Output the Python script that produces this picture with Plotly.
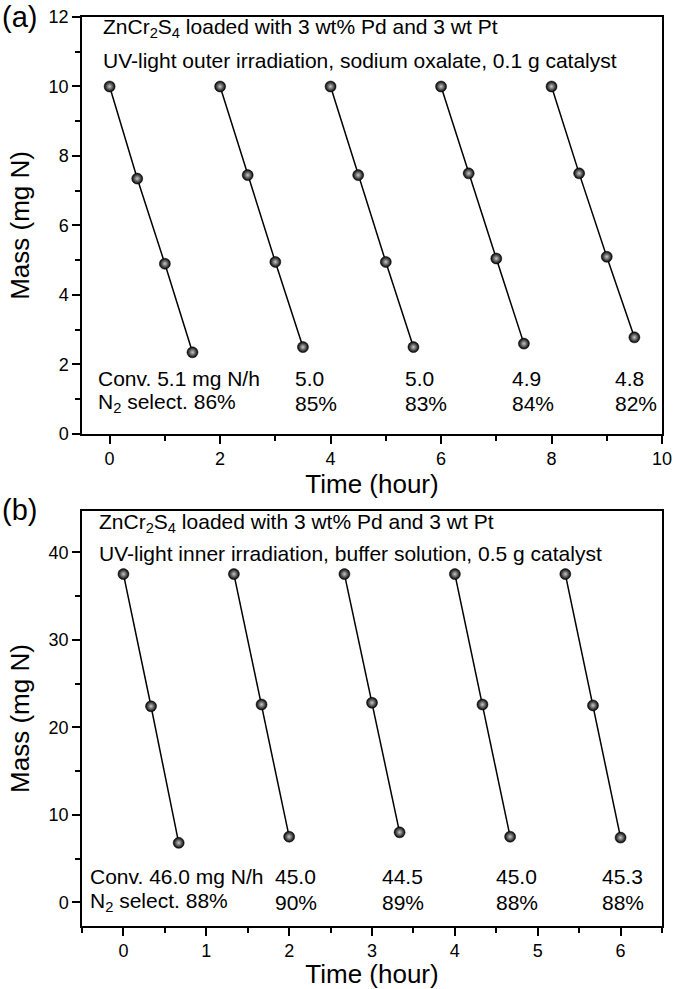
import plotly.graph_objects as go

# ---- data (a) ----
a_time = [[0, 0.5, 1.0, 1.5], [2, 2.5, 3.0, 3.5], [4, 4.5, 5.0, 5.5], [6, 6.5, 7.0, 7.5], [8, 8.5, 9.0, 9.5]]
a_mass = [[10, 7.35, 4.9, 2.35], [10, 7.45, 4.95, 2.5], [10, 7.45, 4.95, 2.5], [10, 7.5, 5.05, 2.6], [10, 7.5, 5.1, 2.78]]
a_conv = ["Conv. 5.1 mg N/h", "5.0", "5.0", "4.9", "4.8"]
a_sel = ["N<sub>2</sub> select. 86%", "85%", "83%", "84%", "82%"]
a_label_x = [-0.25, 3.32, 5.31, 7.25, 9.11]

# ---- data (b) ----
b_time = [[0, 0.333, 0.667], [1.333, 1.667, 2.0], [2.667, 3.0, 3.333], [4.0, 4.333, 4.667], [5.333, 5.667, 6.0]]
b_mass = [[37.5, 22.4, 6.8], [37.5, 22.6, 7.5], [37.5, 22.8, 8.0], [37.5, 22.6, 7.5], [37.5, 22.5, 7.4]]
b_conv = ["Conv. 46.0 mg N/h", "45.0", "44.5", "45.0", "45.3"]
b_sel = ["N<sub>2</sub> select. 88%", "90%", "89%", "88%", "88%"]
b_label_x = [-0.43, 1.81, 3.1, 4.47, 5.75]

FONT = "Liberation Sans, Arial, sans-serif"
fig = go.Figure()

marker = dict(size=11, color="black", gradient=dict(type="radial", color="#c8c8c8"),
              line=dict(width=0.5, color="black"))

for t, m in zip(a_time, a_mass):
    fig.add_trace(go.Scatter(x=t, y=m, mode="lines+markers", xaxis="x", yaxis="y",
                             line=dict(color="black", width=1.5), marker=marker, showlegend=False))
for t, m in zip(b_time, b_mass):
    fig.add_trace(go.Scatter(x=t, y=m, mode="lines+markers", xaxis="x2", yaxis="y2",
                             line=dict(color="black", width=1.5), marker=marker, showlegend=False))

axis_common = dict(showline=True, linecolor="black", linewidth=1.5, mirror=True,
                   ticks="outside", ticklen=8, tickwidth=1.5, tickcolor="black",
                   showgrid=False, zeroline=False, automargin=False, ticklabeloverflow="allow",
                   tickfont=dict(family=FONT, size=18, color="black"),
                   title_font=dict(family=FONT, size=26, color="black"))
minor_common = dict(ticks="outside", ticklen=5, tickwidth=1.5, tickcolor="black", showgrid=False)

fig.update_layout(
    width=675, height=989,
    plot_bgcolor="white", paper_bgcolor="white",
    margin=dict(l=82, r=13, t=17, b=63),
    font=dict(family=FONT, color="black"),
    xaxis=dict(domain=[0, 1], anchor="y", range=[-0.5, 10], dtick=2, tick0=0,
               minor=dict(dtick=1, **minor_common),
               title=dict(text="Time (hour)", standoff=2), **axis_common),
    yaxis=dict(domain=[0.5413, 1], anchor="x", range=[0, 12], dtick=2, tick0=0,
               minor=dict(dtick=1, **minor_common),
               title=dict(text="Mass (mg N)", standoff=12), **axis_common),
    xaxis2=dict(domain=[0, 1], anchor="y2", range=[-0.5, 6.5], dtick=1, tick0=0,
                minor=dict(dtick=0.5, **minor_common),
                title=dict(text="Time (hour)", standoff=2), **axis_common),
    yaxis2=dict(domain=[0, 0.4565], anchor="x2", range=[-2.7, 44.7], dtick=10, tick0=0,
                minor=dict(dtick=5, **minor_common),
                title=dict(text="Mass (mg N)", standoff=12), **axis_common),
)

ann_font = dict(family=FONT, size=21, color="black")
anns = []
# headers
anns.append(dict(x=-0.16, y=11.68, xref="x", yref="y", xanchor="left", yanchor="middle", showarrow=False,
                 text="ZnCr<sub>2</sub>S<sub>4</sub> loaded with 3 wt% Pd and 3 wt Pt", font=ann_font))
anns.append(dict(x=-0.16, y=10.76, xref="x", yref="y", xanchor="left", yanchor="middle", showarrow=False,
                 text="UV-light outer irradiation, sodium oxalate, 0.1 g catalyst", font=ann_font))
anns.append(dict(x=-0.32, y=43.3, xref="x2", yref="y2", xanchor="left", yanchor="middle", showarrow=False,
                 text="ZnCr<sub>2</sub>S<sub>4</sub> loaded with 3 wt% Pd and 3 wt Pt", font=ann_font))
anns.append(dict(x=-0.32, y=39.8, xref="x2", yref="y2", xanchor="left", yanchor="middle", showarrow=False,
                 text="UV-light inner irradiation, buffer solution, 0.5 g catalyst", font=ann_font))
for xv, c, s in zip(a_label_x, a_conv, a_sel):
    anns.append(dict(x=xv, y=1.61, xref="x", yref="y", xanchor="left", yanchor="middle", showarrow=False,
                     text=c, font=ann_font))
    anns.append(dict(x=xv, y=0.89, xref="x", yref="y", xanchor="left", yanchor="middle", showarrow=False,
                     text=s, font=ann_font))
for xv, c, s in zip(b_label_x, b_conv, b_sel):
    anns.append(dict(x=xv, y=2.9, xref="x2", yref="y2", xanchor="left", yanchor="middle", showarrow=False,
                     text=c, font=ann_font))
    anns.append(dict(x=xv, y=0.0, xref="x2", yref="y2", xanchor="left", yanchor="middle", showarrow=False,
                     text=s, font=ann_font))
fig.update_layout(annotations=anns)
# panel labels
fig.add_annotation(x=-82/580, y=1.0, xref="paper", yref="paper", xanchor="left", yanchor="middle",
                   showarrow=False, text="(a)", font=dict(family=FONT, size=29, color="black"))
fig.add_annotation(x=-82/580, y=0.4565 + 1.0/909, xref="paper", yref="paper", xanchor="left", yanchor="middle",
                   showarrow=False, text="(b)", font=dict(family=FONT, size=29, color="black"))

# remove the page's default body margin so the figure fills the window exactly
fig.write_html("out.html", config={"displayModeBar": False},
               post_script="document.body.style.margin='0';document.body.style.overflow='hidden';")
